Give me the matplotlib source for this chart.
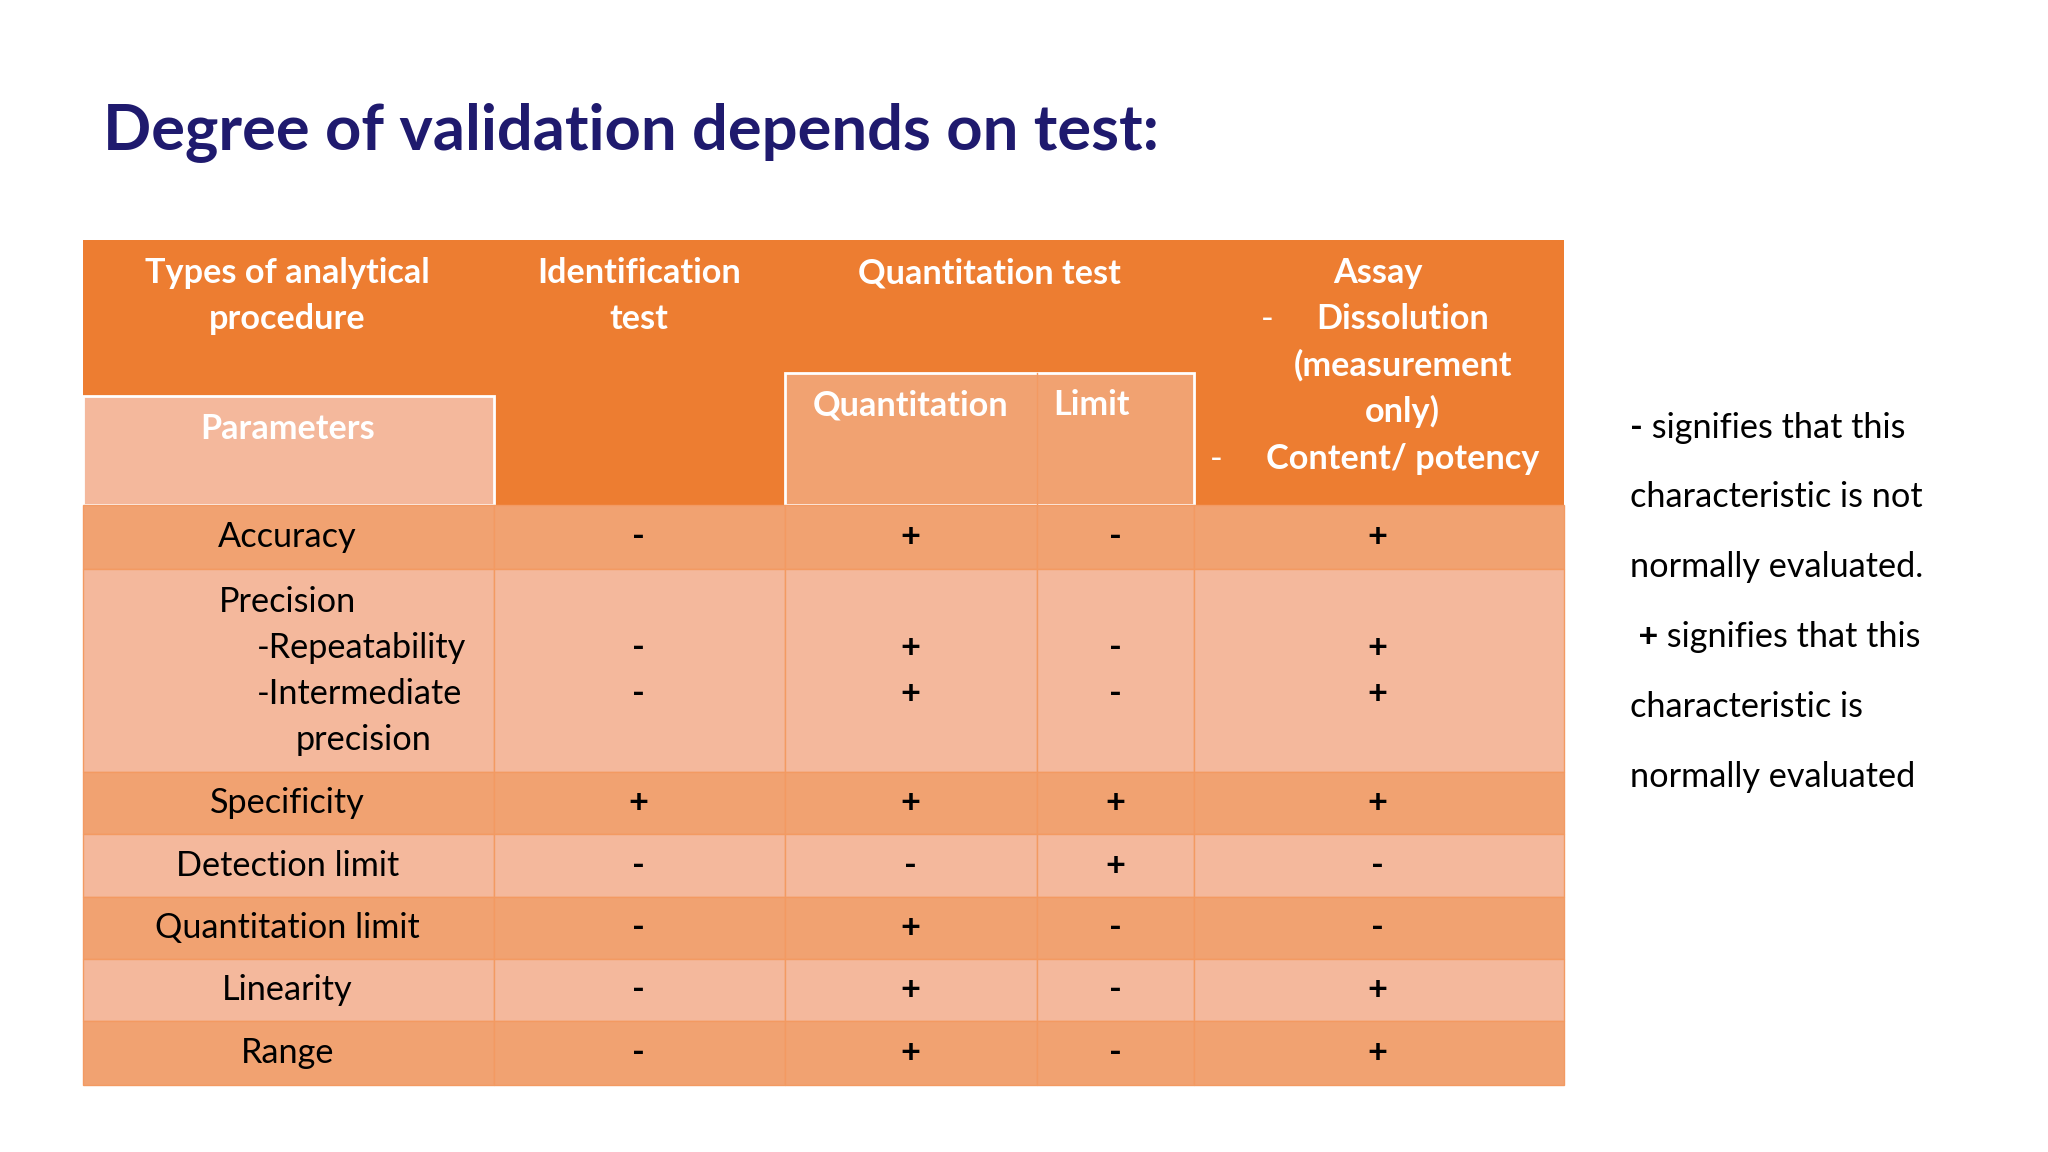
import matplotlib.pyplot as plt
from matplotlib.patches import Rectangle

# Table content
columns = [["Types of analytical", "procedure"], ["Identification", "test"],
           ["Quantitation test"], ["Assay"]]
sub_columns = ["Quantitation", "Limit"]
params = ["Accuracy", "Precision", "Specificity", "Detection limit",
          "Quantitation limit", "Linearity", "Range"]
ident = [["-"], ["-", "-"], ["+"], ["-"], ["-"], ["-"], ["-"]]
quant = [["+"], ["+", "+"], ["+"], ["-"], ["+"], ["+"], ["+"]]
limit = [["-"], ["-", "-"], ["+"], ["+"], ["-"], ["-"], ["-"]]
assay = [["+"], ["+", "+"], ["+"], ["-"], ["-"], ["+"], ["+"]]
notes = [("-", " signifies that this"), ("", "characteristic is not"),
         ("", "normally evaluated."), (" +", " signifies that this"),
         ("", "characteristic is"), ("", "normally evaluated")]

W, H = 1552, 873
fig = plt.figure(figsize=(20.48, 11.52), dpi=100)
ax = fig.add_axes([0, 0, 1, 1])
ax.set_xlim(0, W)
ax.set_ylim(H, 0)
ax.axis("off")
plt.rcParams["font.family"] = "Lato"
k = 1152 / H * 0.72  # display px -> points

ORANGE = "#ED7D31"
DARK = "#F1A271"
LIGHT = "#F4B89C"
LINE = "#F39A62"

xs = [63, 374, 595, 786, 905, 1185]
ys = [383, 431, 585, 632, 680, 727, 774, 822]

ax.text(78, 100, "Degree of validation depends on test:", fontsize=48 * k,
        fontweight="bold", color="#1F1A6E", va="center")

# header
ax.add_patch(Rectangle((xs[0], 182), xs[-1] - xs[0], 383 - 182, color=ORANGE, lw=0))
ax.add_patch(Rectangle((xs[0], 300), xs[1] - xs[0], 83, fc=LIGHT, ec="white", lw=2))
ax.add_patch(Rectangle((xs[2], 283), xs[4] - xs[2], 100, fc=DARK, ec="white", lw=2))
ax.plot([xs[3], xs[3]], [283, 383], color=LINE, lw=1)
hs = 26 * k
hdr = dict(ha="center", va="center", color="white", fontsize=hs, fontweight="bold")
for lines, cx in zip(columns, [218, 484, 750, 1044]):
    for j, t in enumerate(lines):
        ax.text(cx, 207 + 35 * j, t, **hdr)
ax.text(960, 242, "-", ha="center", va="center", color="white", fontsize=hs)
ax.text(1063, 242, "Dissolution", **hdr)
ax.text(1063, 277, "(measurement", **hdr)
ax.text(1063, 312, "only)", **hdr)
ax.text(922, 348, "-", ha="center", va="center", color="white", fontsize=hs)
ax.text(1063, 348, "Content/ potency", **hdr)
ax.text(218, 325, "Parameters", **hdr)
ax.text(690, 307, sub_columns[0], **hdr)
ax.text(798, 307, sub_columns[1], ha="left", va="center", color="white",
        fontsize=hs, fontweight="bold")

# body rows
bs = 26 * k
cols_vals = [ident, quant, limit, assay]
centers = [484, 690, 845, 1044]
for i, name in enumerate(params):
    y0, y1 = ys[i], ys[i + 1]
    fc = DARK if i % 2 == 0 else LIGHT
    for c in range(5):
        ax.add_patch(Rectangle((xs[c], y0), xs[c + 1] - xs[c], y1 - y0, fc=fc, ec=LINE, lw=1))
    if name == "Precision":
        ax.text(218, 456, "Precision", ha="center", va="center", fontsize=bs)
        ax.text(195, 491, "-Repeatability", ha="left", va="center", fontsize=bs)
        ax.text(195, 526, "-Intermediate", ha="left", va="center", fontsize=bs)
        ax.text(224, 561, "precision", ha="left", va="center", fontsize=bs)
        marks_y = [491, 526]
    else:
        ax.text(218, (y0 + y1) / 2, name, ha="center", va="center", fontsize=bs)
        marks_y = [(y0 + y1) / 2]
    for vals, cx in zip(cols_vals, centers):
        for v, my in zip(vals[i], marks_y):
            ax.text(cx, my, v, ha="center", va="center", fontsize=bs, fontweight="bold")

# side notes
for j, (sym, line) in enumerate(notes):
    y = 324 + j * 53
    x = 1235
    if sym:
        t = ax.text(x, y, sym, ha="left", va="center", fontsize=26 * k, fontweight="bold")
        fig.canvas.draw()
        bb = t.get_window_extent().transformed(ax.transData.inverted())
        x = bb.x1
    ax.text(x, y, line, ha="left", va="center", fontsize=26 * k)

fig.savefig("out.png", dpi=100)
